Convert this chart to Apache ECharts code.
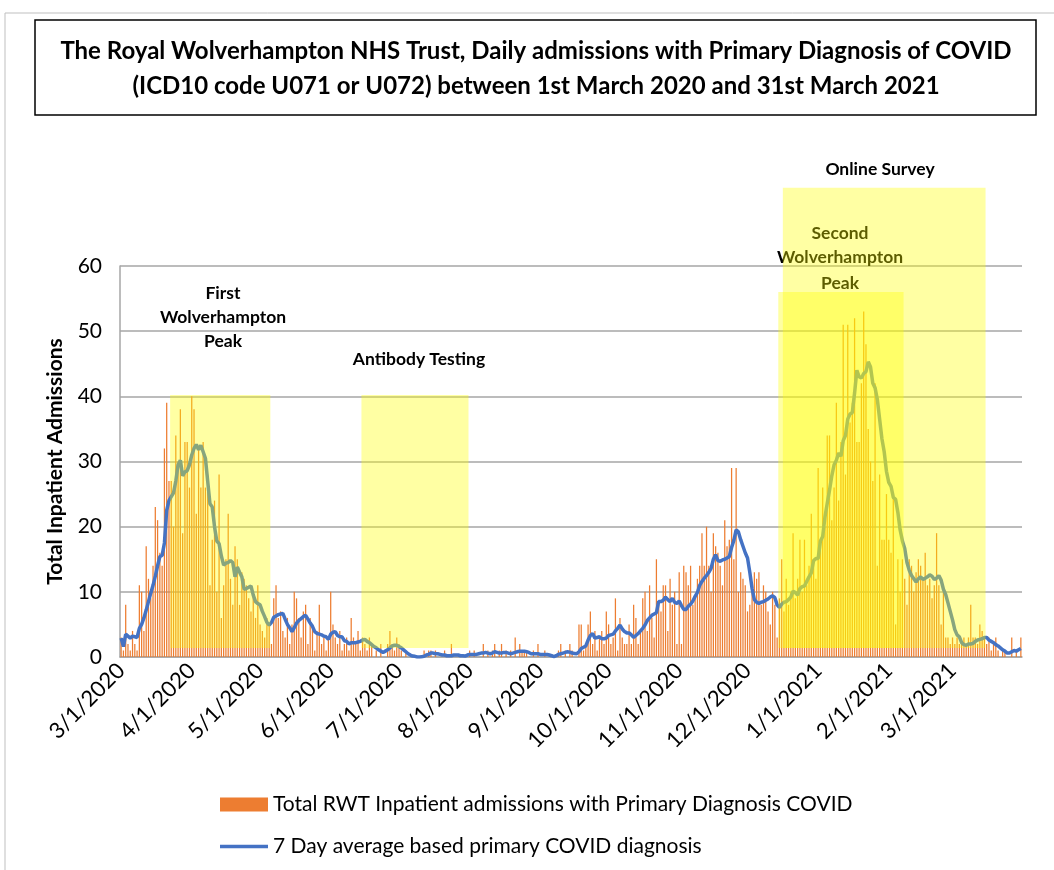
<!DOCTYPE html>
<html>
<head>
<meta charset="utf-8">
<script src="https://cdn.jsdelivr.net/npm/echarts@6/dist/echarts.min.js"></script>
<style>
html,body{margin:0;padding:0;background:#fff;}
#chart{width:1054px;height:870px;}
</style>
</head>
<body>
<div id="chart"></div>
<script>
// ---------- DATA ----------
const startYear = 2020, startMonth = 3, startDay = 1, dayCount = 396;
const categories = [];
for (let i = 0; i < dayCount; i++) {
  const d = new Date(startYear, startMonth - 1, startDay + i);
  categories.push((d.getMonth() + 1) + '/' + d.getDate() + '/' + d.getFullYear());
}

// Daily admissions
const admissions = [
  3,1,8,2,1,4,2,1,11,10,
  4,17,12,9,14,23,21,16,14,32,
  39,27,27,20,34,30,38,19,33,33,
  26,40,38,22,32,26,33,26,28,11,
  18,24,10,28,6,11,15,22,12,8,
  17,15,8,13,12,11,9,7,10,6,
  11,5,4,3,6,5,2,9,11,6,
  7,4,3,6,2,5,10,9,6,3,
  7,8,2,6,5,1,4,8,2,3,
  1,3,10,5,3,2,4,1,2,3,
  1,6,3,2,4,1,3,2,1,3,
  2,0,1,0,2,0,0,2,4,2,
  1,3,2,1,0,1,0,0,0,0,
  0,0,0,1,0,1,1,0,1,0,
  0,0,1,0,0,2,0,0,0,0,
  0,0,0,1,0,1,0,0,0,2,
  0,1,0,1,2,0,1,2,0,1,
  0,1,0,3,0,2,1,1,1,0,
  0,1,0,2,0,0,1,0,0,0,
  0,0,1,2,0,1,0,2,1,0,
  0,5,5,1,2,5,7,2,4,1,
  3,4,2,7,5,2,3,9,1,6,
  3,2,2,5,2,8,6,2,4,9,
  10,4,11,6,3,15,8,7,11,11,
  4,12,8,10,2,13,2,14,13,11,
  14,8,9,12,14,19,14,20,14,10,
  19,17,16,14,11,21,17,18,29,15,
  29,10,13,12,11,7,8,10,13,12,
  13,8,11,10,7,5,10,8,3,9,
  15,7,12,8,10,19,9,12,18,10,
  18,11,14,22,15,12,29,18,26,20,
  34,34,21,26,39,24,33,51,28,51,
  36,39,52,33,33,42,53,48,35,30,
  27,42,14,28,18,18,25,18,16,25,
  5,15,10,15,12,8,15,14,10,13,
  15,14,12,16,11,12,9,11,19,11,
  5,11,3,3,2,3,2,3,2,2,
  3,2,3,8,3,3,2,5,4,3,
  2,3,1,2,3,1,0,1,1,0,
  0,3,0,1,0,3
];

// 7 day average line
const avg7 = [
  2.9,1.6,3.5,3.2,2.9,3.2,3.1,3.0,4.4,5.0,
  6.0,7.2,8.5,9.8,11.0,12.4,14.0,15.4,15.6,17.5,
  22.5,24.0,24.6,25.2,27.0,29.5,30.2,27.8,28.4,28.6,
  29.5,31.0,32.0,32.6,31.8,32.5,31.5,30.5,27.0,23.5,
  23.0,20.0,17.8,17.4,15.5,14.1,14.4,14.5,14.8,14.5,
  12.3,13.8,13.0,12.3,10.4,10.5,10.7,10.9,9.5,8.5,
  8.2,8.0,7.0,6.2,5.3,4.9,5.3,6.1,6.3,6.5,
  6.6,6.7,5.8,5.0,4.5,3.9,4.5,5.2,5.6,5.9,
  6.2,6.4,5.8,5.2,4.7,3.9,3.6,3.5,3.4,3.2,
  3.1,2.7,3.5,3.8,3.9,3.3,3.1,3.1,2.5,2.4,
  2.0,2.2,2.2,2.2,2.3,2.4,2.6,2.7,2.4,2.2,
  1.9,1.6,1.4,1.1,0.9,0.7,0.9,1.1,1.4,1.7,
  1.8,1.8,1.6,1.4,1.1,0.8,0.5,0.3,0.15,0.1,
  0,0,0.05,0.1,0.3,0.4,0.6,0.6,0.5,0.5,
  0.4,0.3,0.3,0.2,0.2,0.2,0.3,0.3,0.3,0.2,
  0.2,0.15,0.3,0.4,0.4,0.4,0.4,0.5,0.6,0.6,
  0.7,0.6,0.5,0.6,0.8,0.7,0.6,0.6,0.7,0.7,
  0.6,0.5,0.6,0.7,0.8,0.9,0.9,0.9,0.8,0.7,
  0.5,0.5,0.5,0.5,0.4,0.4,0.4,0.4,0.3,0.2,
  0.05,0.2,0.4,0.5,0.6,0.7,0.8,0.75,0.6,0.55,
  0.5,0.8,1.3,1.5,1.7,2.6,3.3,3.6,2.9,3.0,
  3.1,2.8,2.8,2.9,3.3,3.4,3.5,4.0,4.4,4.9,
  4.3,3.9,3.7,3.7,3.4,3.0,3.3,3.6,4.0,4.4,
  4.9,5.6,6.0,6.4,6.6,6.8,8.5,8.5,8.7,9.2,
  8.8,8.5,9.0,8.4,8.2,8.6,7.9,7.3,7.3,7.8,
  8.1,8.6,9.3,9.9,11.0,11.6,12.1,12.5,13.0,13.6,
  15.0,15.7,14.8,14.7,14.9,15.0,15.2,15.4,16.8,17.9,
  19.5,19.2,18.0,17.0,16.0,15.2,13.0,10.5,8.8,8.4,
  8.2,8.4,8.5,8.7,8.9,9.2,9.4,9.1,8.0,7.6,
  8.1,8.4,8.5,8.8,9.2,10.1,9.9,9.5,10.5,10.8,
  10.9,11.6,12.3,12.9,14.8,15.1,15.1,17.8,18.5,21.5,
  23.6,25.6,27.8,29.5,30.2,31.3,30.8,33.2,34.0,36.5,
  37.3,37.5,40.5,44.0,43.0,42.8,43.5,43.8,45.3,44.5,
  42.0,41.3,39.5,36.5,33.5,31.5,28.5,26.8,26.2,24.5,
  24.2,22.2,19.5,17.8,16.7,14.5,13.3,12.5,12.0,11.5,
  12.0,12.3,11.9,12.1,12.3,12.6,12.4,11.9,12.1,12.5,
  11.8,10.4,9.6,8.3,7.0,5.7,4.2,3.4,3.1,2.2,
  1.9,1.8,2.0,2.0,2.1,2.4,2.6,2.7,2.8,3.0,
  3.0,2.6,2.4,2.2,1.9,1.7,1.4,1.1,0.9,0.6,
  0.6,0.8,1.0,0.9,1.1,1.3
];

const yTicks = [0,10,20,30,40,50,60];

// Shaded periods (inclusive date ranges, value ranges)
const shadeNames = ['First Wolverhampton Peak','Antibody Testing','Online Survey','Second Wolverhampton Peak'];
const shadeStart = ['3/23/2020','6/15/2020','12/17/2020','12/15/2020'];
const shadeEnd   = ['5/5/2020','7/31/2020','3/15/2021','2/7/2021'];
const shadeLow   = [1.4,1.4,1.4,1.4];
const shadeHigh  = [40.2,40.2,72,56];

const seriesNames = ['Total RWT Inpatient admissions with Primary Diagnosis COVID','7 Day average based primary COVID diagnosis'];
const titleLines = ['The Royal Wolverhampton NHS Trust, Daily admissions with Primary Diagnosis of COVID','(ICD10 code U071 or U072) between 1st March 2020 and 31st March 2021'];

// ---------- CHART ----------
const FONT = 'Lato';
const chart = echarts.init(document.getElementById('chart'), null, {renderer:'canvas'});
const isMonthStart = (idx, val) => val.split('/')[1] === '1';
const legendText = {fontFamily: FONT, fontSize: 21, color: '#000'};

chart.setOption({
  animation: false,
  backgroundColor: '#fff',
  textStyle: {fontFamily: FONT},
  title: {
    text: titleLines.join('\n'),
    left: 536, top: 34, padding: 0, textAlign: 'center',
    textStyle: {fontFamily: FONT, fontWeight: 'bold', fontSize: 24, lineHeight: 35, color: '#000'}
  },
  grid: {left: 120, right: 32, top: 266, bottom: 213, containLabel: false},
  legend: [
    {
      orient: 'vertical', left: 215, top: 789,
      itemWidth: 48, itemHeight: 14,
      textStyle: legendText,
      data: [{name: seriesNames[0], icon: 'rect'}]
    },
    {
      orient: 'vertical', left: 215, top: 831,
      itemWidth: 48, itemHeight: 3.5,
      textStyle: legendText,
      data: [{name: seriesNames[1], icon: 'rect'}]
    }
  ],
  xAxis: {
    type: 'category', data: categories, boundaryGap: true,
    axisLine: {lineStyle: {color: '#A6A6A6', width: 1.5}},
    axisTick: {interval: isMonthStart, alignWithLabel: true, length: 6, lineStyle: {color: '#A6A6A6', width: 1.5}},
    axisLabel: {interval: isMonthStart, rotate: 45, fontSize: 22, color: '#000', fontFamily: FONT, margin: 10},
    splitLine: {show: false}
  },
  yAxis: {
    type: 'value', min: yTicks[0], max: yTicks[yTicks.length-1], interval: 10,
    name: 'Total Inpatient Admissions', nameLocation: 'middle', nameGap: 54, nameRotate: 90,
    nameTextStyle: {fontFamily: FONT, fontWeight: 'bold', fontSize: 21, color: '#000'},
    axisLine: {show: true, lineStyle: {color: '#A6A6A6', width: 1.5}},
    axisTick: {show: false},
    axisLabel: {fontSize: 21, color: '#000', fontFamily: FONT, margin: 18},
    splitLine: {lineStyle: {color: '#A6A6A6', width: 1.5}}
  },
  series: [
    {
      name: seriesNames[0], type: 'bar', data: admissions,
      barCategoryGap: '45%', itemStyle: {color: '#ED7D31'}, z: 2
    },
    {
      name: seriesNames[1], type: 'line', data: avg7,
      showSymbol: false, symbol: 'none', smooth: false,
      lineStyle: {color: '#4472C4', width: 3.5}, itemStyle: {color: '#4472C4'}, z: 3
    }
  ]
});

// ---------- Overlays / annotations ----------
function xPix(idx){ return chart.convertToPixel({xAxisIndex: 0}, idx); }
function yPix(v){ return chart.convertToPixel({yAxisIndex: 0}, v); }
const band = xPix(1) - xPix(0);
const graphics = [];
graphics.push({type:'rect', shape:{x:5, y:13, width:1100, height:900}, style:{fill:'none', stroke:'#BFBFBF', lineWidth:1}, z:0, silent:true});
graphics.push({type:'rect', shape:{x:35, y:20, width:1001, height:95}, style:{fill:'none', stroke:'#000', lineWidth:1.5}, z:0, silent:true});

// annotation texts (drawn beneath the translucent shading)
const txt = (t, x, y) => ({type:'text', z:50, silent:true, style:{text:t, x:x, y:y, fill:'#000', font:'bold 17.5px ' + FONT, textAlign:'center', textVerticalAlign:'middle'}});
graphics.push(txt('First', 223, 293), txt('Wolverhampton', 223, 317), txt('Peak', 223, 341));
graphics.push(txt('Antibody Testing', 419, 359));
graphics.push(txt('Online Survey', 880, 169));
graphics.push(txt('Second', 840, 233), txt('Wolverhampton', 840, 257), txt('Peak', 840, 283));

for (let i = 0; i < shadeNames.length; i++) {
  const a = categories.indexOf(shadeStart[i]);
  const b = categories.indexOf(shadeEnd[i]);
  const x0 = xPix(a) - band/2, x1 = xPix(b) + band/2;
  const y0 = yPix(shadeHigh[i]), y1 = yPix(shadeLow[i]);
  graphics.push({type:'rect', z:100, silent:true,
    shape:{x:x0, y:y0, width:x1-x0, height:y1-y0},
    style:{fill:'rgba(255,255,0,0.36)'}});
}
chart.setOption({graphic: graphics});
</script>
</body>
</html>
